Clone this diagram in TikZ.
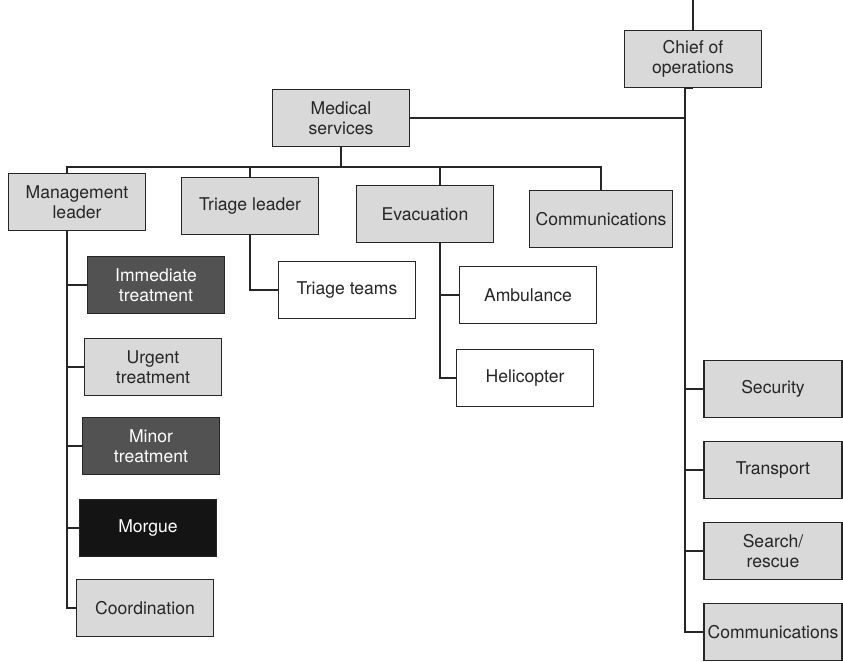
\documentclass[tikz,border=0pt]{standalone}
\usepackage{fontspec}
\setmainfont{TeX Gyre Heros}
\usetikzlibrary{positioning}

\begin{document}
\begin{tikzpicture}[x=0.02cm,y=-0.02cm,line width=0.8pt,draw=black!85]
\tikzstyle{box}=[draw=black!85,rectangle,align=center,minimum width=2.74cm,minimum height=1.14cm,inner sep=2pt,font=\fontsize{10}{11.5}\selectfont,text=black!85]
\tikzstyle{grey box}=[box,fill=black!15]
\tikzstyle{white box}=[box,fill=white]
\tikzstyle{dark box}=[box,fill=black!68,text=white]
\tikzstyle{black box}=[box,fill=black!92,text=white]
\tikzstyle{side box}=[grey box,minimum width=2.76cm]

\useasboundingbox (0,0) rectangle (843,662);

% Draw the top of the chart
\coordinate (top) at (693,0);
\node[grey box] (chief) at (693,59) {Chief of\\operations};
\node[grey box] (med) at (341,118) {Medical\\services};

% Draw the medical services sections
\node[grey box] (mgmt) at (77,202) {Management\\leader};
\node[grey box] (triage) at (250,206) {Triage leader};
\node[grey box] (evac) at (425,214) {Evacuation};
\node[grey box,minimum width=2.86cm] (comm) at (601,219) {Communications};

% Draw the treatment areas
\node[dark box] (imm) at (156,285) {Immediate\\treatment};
\node[grey box] (urg) at (153,367) {Urgent\\treatment};
\node[dark box] (minor) at (151,446) {Minor\\treatment};
\node[black box] (morgue) at (148,528) {Morgue};
\node[grey box] (coord) at (145,608) {Coordination};

% Draw the triage and evacuation units
\node[white box] (teams) at (347,290) {Triage teams};
\node[white box] (amb) at (528,295) {Ambulance};
\node[white box] (helic) at (525,378) {Helicopter};

% Draw the other operations
\node[side box] (sec) at (773,389) {Security};
\node[side box] (trans) at (773,470) {Transport};
\node[side box] (search) at (773,551) {Search/\\rescue};
\node[side box] (comm2) at (773,632) {Communications};

% Connect the chief of operations
\coordinate (spine) at ([xshift=-0.16cm]chief.south);
\draw (top) -- (chief);
\draw (chief.south) -- (spine) |- (comm2.west);
\foreach \dest in {sec,trans,search}
\draw (spine |- \dest.west) -- (\dest.west);
\draw (med.east) -- (med.east -| spine);

% Connect medical services with its sections
\coordinate (bus) at (0,167);
\draw (med.south) -- (med.south |- bus);
\draw ([xshift=-0.2cm]mgmt.north) -- ([xshift=-0.2cm]mgmt.north |- bus) -- (comm.north |- bus) -- (comm.north);
\draw (triage.north) -- (triage.north |- bus);
\draw ([xshift=0.3cm]evac.north) -- ([xshift=0.3cm]evac.north |- bus);

% Connect every section with its units
\draw ([xshift=-0.2cm]mgmt.south) |- (coord.west);
\foreach \dest in {imm,urg,minor,morgue}
\draw ([xshift=-0.2cm]mgmt.south |- \dest.west) -- (\dest.west);
\draw (triage.south) |- (teams.west);
\draw ([xshift=0.3cm]evac.south) |- (helic.west);
\draw ([xshift=0.3cm]evac.south |- amb.west) -- (amb.west);
\end{tikzpicture}
\end{document}
